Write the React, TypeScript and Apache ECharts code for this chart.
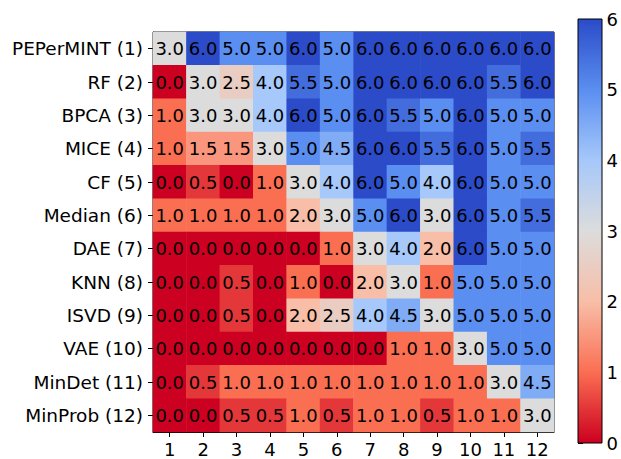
import React, { useEffect, useRef } from "react";
import * as echarts from "echarts";

const xLabels = ["1", "2", "3", "4", "5", "6", "7", "8", "9", "10", "11", "12"];
const yLabels = [
  "PEPerMINT (1)", "RF (2)", "BPCA (3)", "MICE (4)", "CF (5)", "Median (6)",
  "DAE (7)", "KNN (8)", "ISVD (9)", "VAE (10)", "MinDet (11)", "MinProb (12)",
];
const matrix: number[][] = [
  [3, 6, 5, 5, 6, 5, 6, 6, 6, 6, 6, 6],
  [0, 3, 2.5, 4, 5.5, 5, 6, 6, 6, 6, 5.5, 6],
  [1, 3, 3, 4, 6, 5, 6, 5.5, 5, 6, 5, 5],
  [1, 1.5, 1.5, 3, 5, 4.5, 6, 6, 5.5, 6, 5, 5.5],
  [0, 0.5, 0, 1, 3, 4, 6, 5, 4, 6, 5, 5],
  [1, 1, 1, 1, 2, 3, 5, 6, 3, 6, 5, 5.5],
  [0, 0, 0, 0, 0, 1, 3, 4, 2, 6, 5, 5],
  [0, 0, 0.5, 0, 1, 0, 2, 3, 1, 5, 5, 5],
  [0, 0, 0.5, 0, 2, 2.5, 4, 4.5, 3, 5, 5, 5],
  [0, 0, 0, 0, 0, 0, 0, 1, 1, 3, 5, 5],
  [0, 0.5, 1, 1, 1, 1, 1, 1, 1, 1, 3, 4.5],
  [0, 0, 0.5, 0.5, 1, 0.5, 1, 1, 0.5, 1, 1, 3],
];
const colorStops = ["#cc0020", "#fa6e52", "#f8bea8", "#dcdcdc", "#a6c8fa", "#5a8ef0", "#2b4bc8"];
const vMin = 0;
const vMax = 6;

const FONT = "DejaVu Sans";
const FS = 18;

export default function App() {
  const ref = useRef<HTMLDivElement>(null);
  useEffect(() => {
    if (!ref.current) return;
    const chart = echarts.init(ref.current, null, { renderer: "svg" });
    const data: [number, number, number][] = [];
    matrix.forEach((row, yi) => row.forEach((v, xi) => data.push([xi, yi, v])));
    const n = colorStops.length;
    const cbLeft = 578, cbTop = 19, cbW = 24, cbH = 424;
    chart.setOption({
      animation: false,
      grid: [
        { left: 153, top: 32, width: 401, height: 400, show: true, borderColor: "#000", borderWidth: 1, backgroundColor: "transparent" },
        { left: cbLeft, top: cbTop, width: cbW, height: cbH, show: false },
      ],
      xAxis: [
        {
          type: "category", gridIndex: 0, data: xLabels, position: "bottom",
          axisLine: { show: true, lineStyle: { color: "#000", width: 1 } },
          axisTick: { show: true, alignWithLabel: true, length: 5, lineStyle: { color: "#000" } },
          axisLabel: { fontFamily: FONT, fontSize: FS, color: "#000", margin: 8 },
          splitLine: { show: false },
        },
        { type: "value", gridIndex: 1, show: false, min: 0, max: 1 },
      ],
      yAxis: [
        {
          type: "category", gridIndex: 0, data: yLabels, inverse: true,
          axisLine: { show: true, lineStyle: { color: "#000", width: 1 } },
          axisTick: { show: true, alignWithLabel: true, length: 5, lineStyle: { color: "#000" } },
          axisLabel: { fontFamily: FONT, fontSize: 18.5, color: "#000", margin: 10 },
          splitLine: { show: false },
        },
        {
          type: "value", gridIndex: 1, min: vMin, max: vMax, interval: 1, position: "right",
          axisLine: { show: false },
          axisTick: { show: true, length: 5, lineStyle: { color: "#000" } },
          axisLabel: { fontFamily: FONT, fontSize: FS, color: "#000", margin: 8 },
          splitLine: { show: false },
        },
      ],
      visualMap: {
        show: false, type: "continuous", min: vMin, max: vMax, dimension: 2, seriesIndex: 0,
        inRange: { color: colorStops },
      },
      graphic: [
        {
          type: "rect", z: 10,
          shape: { x: cbLeft, y: cbTop, width: cbW, height: cbH },
          style: {
            fill: new echarts.graphic.LinearGradient(0, 0, 0, 1,
              colorStops.map((c, i) => ({ offset: i / (n - 1), color: colorStops[n - 1 - i] }))),
            stroke: "#000", lineWidth: 1,
          },
        },
      ],
      series: [
        {
          type: "heatmap", xAxisIndex: 0, yAxisIndex: 0, data,
          itemStyle: { borderWidth: 0 },
          emphasis: { disabled: true },
          label: {
            show: true, fontFamily: FONT, fontSize: FS, color: "#000",
            formatter: (p: any) => Number(p.value[2]).toFixed(1),
          },
        },
        { type: "line", xAxisIndex: 1, yAxisIndex: 1, data: [], silent: true },
      ],
    });
    return () => chart.dispose();
  }, []);
  return <div ref={ref} style={{ width: 621, height: 459, position: "absolute", left: 0, top: 0, background: "#fff" }} />;
}
